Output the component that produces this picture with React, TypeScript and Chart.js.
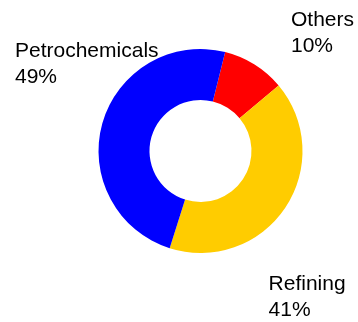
import React, { useEffect, useRef } from "react";
import { Chart, registerables } from "chart.js";

Chart.register(...registerables);

// Segment shares, clockwise from the top-right
const categories = ["Others", "Refining", "Petrochemicals"];
const shares = [10, 41, 49];
const colors = ["#FF0000", "#FFCC00", "#0000FF"];

// Where each category's two-line caption sits (left x, first baseline y)
const captionAnchors: Record<string, { x: number; y: number }> = {
  Others: { x: 291, y: 25.7 },
  Refining: { x: 268.6, y: 289.7 },
  Petrochemicals: { x: 15, y: 56.7 },
};

const captionPlugin = {
  id: "captions",
  afterDraw(chart: Chart) {
    const ctx = chart.ctx;
    const labels = chart.data.labels as string[];
    const values = chart.data.datasets[0].data as number[];
    ctx.save();
    ctx.font = '21px "Liberation Sans", Arial, sans-serif';
    ctx.fillStyle = "#000";
    ctx.textAlign = "left";
    ctx.textBaseline = "alphabetic";
    labels.forEach((label, i) => {
      const a = captionAnchors[label];
      if (!a) return;
      ctx.fillText(label, a.x, a.y);
      ctx.fillText(`${values[i]}%`, a.x, a.y + 26);
    });
    ctx.restore();
  },
};

export default function App() {
  const ref = useRef<HTMLCanvasElement>(null);

  useEffect(() => {
    document.body.style.margin = "0";
    const chart = new Chart(ref.current!, {
      type: "doughnut",
      data: {
        labels: categories,
        datasets: [
          {
            data: shares,
            backgroundColor: colors,
            borderWidth: 0,
            hoverOffset: 0,
          },
        ],
      },
      options: {
        responsive: false,
        animation: false,
        rotation: 14,
        cutout: "50%",
        layout: { padding: { left: 98.5, right: 55.5, top: 49, bottom: 69 } },
        plugins: {
          legend: { display: false },
          tooltip: { enabled: false },
        },
      },
      plugins: [captionPlugin],
    });
    return () => chart.destroy();
  }, []);

  return <canvas ref={ref} width={358} height={322} style={{ display: "block" }} />;
}
